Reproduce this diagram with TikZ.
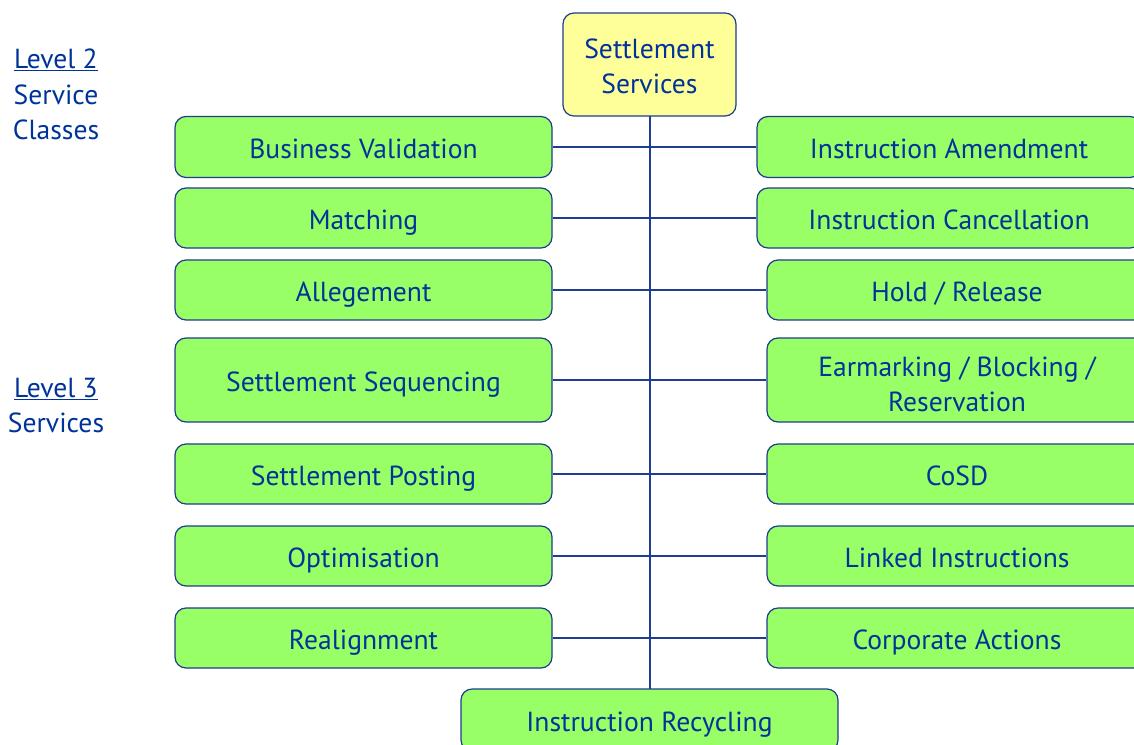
\documentclass[tikz,border=0pt]{standalone}
\usepackage{fontspec}
\setmainfont{PT Sans}
\begin{document}
\begin{tikzpicture}[x=1pt,y=-1pt,
  txt/.style={text=tblue,font=\fontsize{27.6}{35}\selectfont},
  gboxbase/.style={draw=bblue,line width=1.2pt,fill=gfill,rounded corners=11pt,txt,align=center,inner sep=0pt},
  gbox/.style={gboxbase,text height=27pt,text depth=4pt},
  gbox2/.style={gboxbase},
  ybox/.style={gboxbase,fill=yfill},
  side/.style={txt,anchor=base},
  link/.style={draw=bblue,line width=1.3pt}]
\definecolor{tblue}{RGB}{0,51,153}
\definecolor{bblue}{RGB}{30,60,145}
\definecolor{gfill}{RGB}{153,255,102}
\definecolor{yfill}{RGB}{255,255,153}
\useasboundingbox (0,0) rectangle (1134,744);
\clip (0,0) rectangle (1134,744);
% connectors first
\coordinate (vtop) at (650,116);
\coordinate (vbot) at (650,689);
\draw[link] (vtop) -- (vbot);
% top
\node[ybox,minimum width=173pt,minimum height=103pt] (top) at (649.5,64.5) {\rule{0pt}{24pt}Settlement\\Services};
% left column
\foreach \n/\t/\y/\h in {l1/Business Validation/147/61,l2/Matching/218/60,l3/Allegement/290/60,l4/Settlement Sequencing/380/84,l5/Settlement Posting/474/60,l6/Optimisation/556/60,l7/Realignment/638/60}{
  \node[gbox,minimum width=377pt,minimum height=\h pt] (\n) at (363.5,\y) {\t};
}
% right column
\node[gbox,minimum width=384pt,minimum height=61pt] (r1) at (949,147) {Instruction Amendment};
\node[gbox,minimum width=384pt,minimum height=60pt] (r2) at (949,218) {Instruction Cancellation};
\node[gbox,minimum width=380pt,minimum height=60pt] (r3) at (957,290) {Hold / Release};
\node[gbox2,minimum width=380pt,minimum height=84pt] (r4) at (957,380) {\rule{0pt}{28pt}Earmarking / Blocking /\\Reservation};
\node[gbox,minimum width=380pt,minimum height=60pt] (r5) at (957,474) {CoSD};
\node[gbox,minimum width=380pt,minimum height=60pt] (r6) at (957,556) {Linked Instructions};
\node[gbox,minimum width=380pt,minimum height=60pt] (r7) at (957,638) {Corporate Actions};
% bottom
\node[gbox,minimum width=377pt,minimum height=62pt] (bot) at (649.5,720) {Instruction Recycling};
% horizontal links
\foreach \i in {1,...,7}{
  \draw[link] (l\i.east) -- (r\i.west);
}
% side labels
\node[side] (lv2) at (56,68) {\underline{Level 2}};
\node[side] (sv2) at (56,104) {Service};
\node[side] (cl2) at (56,139) {Classes};
\node[side] (lv3) at (56,397) {\underline{Level 3}};
\node[side] (sv3) at (56,432) {Services};
\end{tikzpicture}
\end{document}
